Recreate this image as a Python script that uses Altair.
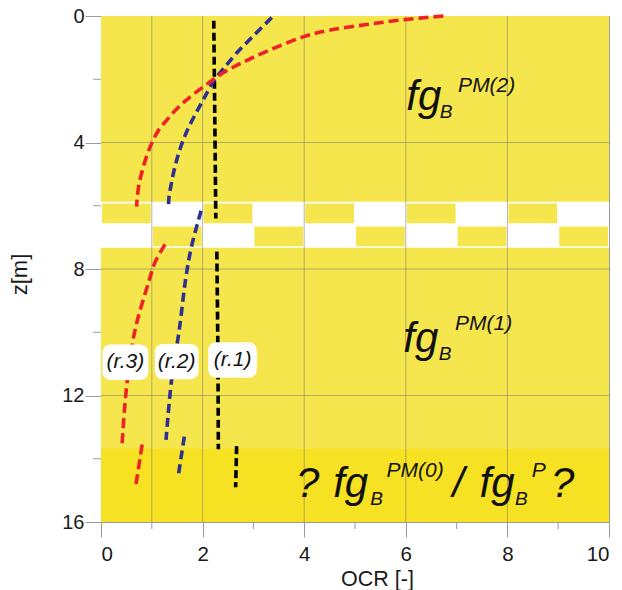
import altair as alt
import pandas as pd

# ---------------- data ----------------
x_ticks_major = [0, 2, 4, 6, 8, 10]
x_ticks_minor = [1, 3, 5, 7, 9]
x_grid = [1, 2, 4, 6, 8]
z_ticks_major = [0, 4, 8, 12, 16]
z_ticks_minor = [2, 6, 10, 14]
z_grid = [4, 8, 12]

# zones
bottom_zone = [13.68, 16.0]
band_z = [5.87, 6.6, 7.33]
band_cols = list(range(10))

# curve segments (x = OCR, z = depth)
r1_segments = [
    ([2.22, 2.24, 2.26], [0.15, 3.2, 6.4]),
    ([2.28, 2.30, 2.31], [7.45, 10.5, 13.7]),
    ([2.67, 2.65], [13.6, 14.9]),
]
r2_segments = [
    ([3.36, 3.0, 2.67, 2.42, 2.24, 2.08, 1.92, 1.75, 1.62, 1.52, 1.44, 1.38, 1.34, 1.33],
     [0.05, 0.63, 1.17, 1.65, 2.0, 2.45, 2.92, 3.44, 3.92, 4.39, 4.87, 5.34, 5.7, 5.95]),
    ([1.97, 1.78, 1.67, 1.54, 1.39, 1.28],
     [6.16, 7.3, 8.28, 9.93, 11.5, 13.4]),
    ([1.64, 1.52], [13.3, 14.55]),
]
r3_segments = [
    ([6.74, 5.94, 5.23, 4.5, 3.98, 3.26, 2.75, 2.4, 2.15, 1.88, 1.65, 1.46, 1.29, 1.13,
      1.02, 0.93, 0.86, 0.80, 0.75, 0.72, 0.70],
     [0.0, 0.12, 0.27, 0.45, 0.66, 1.12, 1.5, 1.8, 2.08, 2.4, 2.7, 2.99, 3.3, 3.62,
      3.95, 4.29, 4.62, 4.97, 5.3, 5.65, 6.03]),
    ([1.26, 1.06, 0.95, 0.67, 0.52, 0.47, 0.41],
     [7.22, 7.8, 8.35, 9.93, 11.5, 12.3, 13.65]),
    ([0.81, 0.69], [13.55, 14.8]),
]

# labels of the curves
lab_text = ["(r.3)", "(r.2)", "(r.1)"]
lab_x = [0.48, 1.49, 2.59]
lab_z = [10.95, 10.93, 10.88]
lab_halfw = [0.45, 0.43, 0.48]
lab_halfh = 0.56

# big annotations
ann_text = ["fg", "B", "PM(2)",
            "fg", "B", "PM(1)",
            "?", "fg", "B", "PM(0)", "/", "fg", "B", "P", "?"]
ann_x = [6.01, 6.67, 7.03,
         5.95, 6.65, 6.97,
         3.84, 4.57, 5.30, 5.62, 6.92, 7.45, 8.15, 8.48, 8.86]
ann_z = [2.97, 3.21, 2.39,
         10.62, 10.88, 9.93,
         15.21, 15.21, 15.47, 14.57, 15.21, 15.21, 15.47, 14.57, 15.21]
ann_size = [42, 19, 21,
            42, 19, 21,
            42, 42, 19, 21, 42, 42, 19, 21, 42]

# ---------------- styles ----------------
YELLOW = "#F5E64E"
YELLOW_DARK = "#F6E223"
FONT = "Liberation Sans"
W, H = 508, 506

xs = alt.Scale(domain=[0, 10], nice=False, zero=False)
zs = alt.Scale(domain=[0, 16], reverse=True, nice=False, zero=False)

xaxis = alt.Axis(values=x_ticks_major, grid=False, domain=False, tickSize=15,
                 tickColor="#9a9a9a", labelFont=FONT, labelFontSize=20.5, labelColor="#1a1a1a",
                 labelPadding=7, title="OCR [-]", titleFont=FONT, titleFontSize=21.5,
                 titleFontWeight="normal", titleColor="#1a1a1a", titleBaseline="alphabetic",
                 titleY=63, titleX=276, titleAlign="center")
zaxis = alt.Axis(values=z_ticks_major, grid=False, domain=False, tickSize=16,
                 tickColor="#9a9a9a", labelFont=FONT, labelFontSize=20, labelColor="#1a1a1a",
                 labelPadding=1, title="z[m]", titleFont=FONT, titleFontSize=22,
                 titleFontWeight="normal", titleColor="#1a1a1a", titleAngle=270,
                 titleX=-81.5, titleY=258, titleAlign="center", titleBaseline="middle")

# ---------------- layers ----------------
bg = alt.Chart(pd.DataFrame({"x": [0], "x2": [10], "z": [0], "z2": [16]})).mark_rect(
    color=YELLOW).encode(
    x=alt.X("x:Q", scale=xs, axis=xaxis), x2="x2", y=alt.Y("z:Q", scale=zs, axis=zaxis), y2="z2")

bottom = alt.Chart(pd.DataFrame({"x": [0], "x2": [10], "z": [bottom_zone[0]], "z2": [bottom_zone[1]]})).mark_rect(
    color=YELLOW_DARK).encode(x=alt.X("x:Q", scale=xs), x2="x2", y=alt.Y("z:Q", scale=zs), y2="z2")

band = alt.Chart(pd.DataFrame({"x": [0], "x2": [10], "z": [band_z[0]], "z2": [band_z[2]]})).mark_rect(
    color="white").encode(x=alt.X("x:Q", scale=xs), x2="x2", y=alt.Y("z:Q", scale=zs), y2="z2")

cells = []
for c in band_cols:
    # top row: yellow on even columns; bottom row: yellow on odd columns
    row = 0 if c % 2 == 0 else 1
    cells.append({"x": c + 0.02, "x2": c + 1 - 0.02,
                  "z": band_z[row] + 0.06, "z2": band_z[row + 1] - 0.05})
checker = alt.Chart(pd.DataFrame(cells)).mark_rect(color=YELLOW).encode(
    x=alt.X("x:Q", scale=xs), x2="x2", y=alt.Y("z:Q", scale=zs), y2="z2")

vgrid = alt.Chart(pd.DataFrame({"x": x_grid})).mark_rule(
    color="#7a7a6a", opacity=0.55, strokeWidth=1).encode(x=alt.X("x:Q", scale=xs))
hgrid = alt.Chart(pd.DataFrame({"z": z_grid})).mark_rule(
    color="#7a7a6a", opacity=0.55, strokeWidth=1).encode(y=alt.Y("z:Q", scale=zs))

zminor = alt.Chart(pd.DataFrame({"z": z_ticks_minor})).mark_rule(color="#9a9a9a").encode(
    y=alt.Y("z:Q", scale=zs), x=alt.value(-8), x2=alt.value(0))
xminor = alt.Chart(pd.DataFrame({"x": x_ticks_minor})).mark_rule(color="#9a9a9a").encode(
    x=alt.X("x:Q", scale=xs), y=alt.value(H), y2=alt.value(H + 7))


def curve_df(segments, name):
    rows = []
    for si, (xv, zv) in enumerate(segments):
        for i, (a, b) in enumerate(zip(xv, zv)):
            rows.append({"seg": f"{name}{si}", "ord": i, "x": a, "z": b})
    return pd.DataFrame(rows)


def curve(segments, name, color, dash):
    return alt.Chart(curve_df(segments, name)).mark_line(
        color=color, strokeWidth=3.6, strokeDash=dash, interpolate="catmull-rom").encode(
        x=alt.X("x:Q", scale=xs), y=alt.Y("z:Q", scale=zs),
        detail="seg:N", order="ord:Q")


c1 = curve(r1_segments, "r1", "#000000", [8, 4])
c2 = curve(r2_segments, "r2", "#2E3192", [9, 5])
c3 = curve(r3_segments, "r3", "#EE2226", [10, 5])

lab_df = pd.DataFrame({
    "t": lab_text, "x": lab_x, "z": lab_z,
    "x1": [a - w for a, w in zip(lab_x, lab_halfw)],
    "x2": [a + w for a, w in zip(lab_x, lab_halfw)],
    "z1": [b - lab_halfh for b in lab_z],
    "z2": [b + lab_halfh for b in lab_z],
})
boxes = alt.Chart(lab_df).mark_rect(color="white", cornerRadius=8).encode(
    x=alt.X("x1:Q", scale=xs), x2="x2", y=alt.Y("z1:Q", scale=zs), y2="z2")
labels = alt.Chart(lab_df).mark_text(
    font=FONT, fontSize=21, fontStyle="italic", color="#111111", align="center", baseline="middle").encode(
    x=alt.X("x:Q", scale=xs), y=alt.Y("z:Q", scale=zs), text="t:N")

ann_df = pd.DataFrame({"t": ann_text, "x": ann_x, "z": ann_z, "s": ann_size})
ann = alt.Chart(ann_df).mark_text(
    font=FONT, fontStyle="italic", color="#111111", align="left", baseline="alphabetic").encode(
    x=alt.X("x:Q", scale=xs), y=alt.Y("z:Q", scale=zs), text="t:N",
    size=alt.Size("s:Q", scale=None))

chart = alt.layer(bg, bottom, band, checker, vgrid, hgrid, zminor, xminor,
                  c1, c2, c3, boxes, labels, ann).properties(
    width=W, height=H,
    autosize=alt.AutoSizeParams(type="none"),
    padding={"left": 93, "top": 8, "right": 5, "bottom": 70},
).configure_view(stroke="#9a9a9a", strokeWidth=1)

chart.save("out.html", embed_options={"renderer": "svg", "actions": False})
